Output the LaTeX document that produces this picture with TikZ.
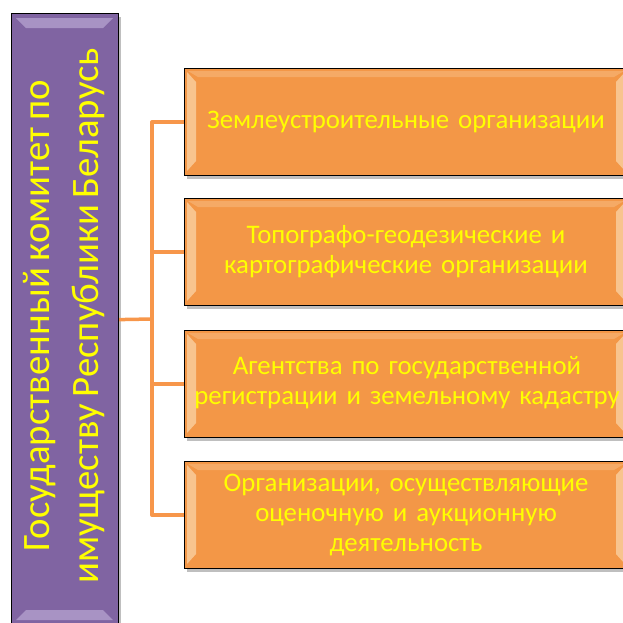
\documentclass[tikz,border=0pt]{standalone}
\usepackage{fontspec}
\setmainfont{Carlito}[WordSpace=0.75]
\usetikzlibrary{shadows}
\definecolor{purp}{HTML}{8064A2}
\definecolor{purpl}{HTML}{C4B3DC}
\definecolor{orng}{HTML}{F39747}
\definecolor{orngl}{HTML}{FAD0A0}
\definecolor{conn}{HTML}{F7964A}
\definecolor{txt}{HTML}{FFFF00}
\tikzset{
  box/.style={draw=black, line width=1.2pt, inner sep=0pt, anchor=north west,
    drop shadow={shadow xshift=2pt, shadow yshift=-3pt, opacity=0.25, fill=black}},
  purpbox/.style={box, fill=purp, minimum width=107pt, minimum height=612pt},
  orbox/.style={box, fill=orng, minimum width=444pt, minimum height=107pt},
  orlabel/.style={text=txt, font=\fontsize{26.8}{30}\selectfont, align=center, text width=430pt},
  biglabel/.style={text=txt, font=\fontsize{38.8}{49}\selectfont, align=center, rotate=90},
  link/.style={conn, line width=3.5pt}
}
\newcommand{\bevelH}[4]{% left x, top y, right x, bottom y : left/right strips
  \fill[orngl,opacity=0.8] (#1+3,#2+4) -- (#1+12,#2+14) -- (#1+12,#4-14) -- (#1+3,#4-4) -- cycle;
  \fill[orngl,opacity=0.8] (#3-3,#2+4) -- (#3-12,#2+14) -- (#3-12,#4-14) -- (#3-3,#4-4) -- cycle;
  \fill[orngl,opacity=0.35] (#1+4,#2+3) -- (#3-4,#2+3) -- (#3-14,#2+9) -- (#1+14,#2+9) -- cycle;
}
\begin{document}
\begin{tikzpicture}[x=1pt,y=-1pt]
\useasboundingbox (0,0) rectangle (623,622);
% purple box
\node[purpbox] (gk) at (11,13) {};
\fill[purpl,opacity=0.6] (16,18) -- (113,18) -- (103,28) -- (26,28) -- cycle;
\fill[purpl,opacity=0.6] (16,620) -- (113,620) -- (103,610) -- (26,610) -- cycle;
\node[biglabel] (gkt) at (64,316) {Государственный комитет по\\имуществу Республики Беларусь};
% orange boxes
\node[orbox] (o1) at (184,68) {};
\node[orbox] (o2) at (184,198) {};
\node[orbox] (o3) at (184,330) {};
\node[orbox] (o4) at (184,461) {};
\bevelH{184}{68}{628}{175}
\bevelH{184}{198}{628}{305}
\bevelH{184}{330}{628}{437}
\bevelH{184}{461}{628}{568}
\node[orlabel] (t1) at (406,122) {Землеустроительные организации};
\node[orlabel] (t2) at (406,252) {Топографо-геодезические и\\картографические организации};
\node[orlabel] (t3) at (407,383) {Агентства по государственной\\регистрации и земельному кадастру};
\node[orlabel] (t4) at (406,515) {Организации, осуществляющие\\оценочную и аукционную\\деятельность};
% connectors
\coordinate (bus) at (152,319);
\draw[link] (gk.east) -- (bus);
\draw[link, line join=round] (o1.west) -- (o1.west -| bus) -- (o4.west -| bus) -- (o4.west);
\draw[link] (o2.west) -- (o2.west -| bus);
\draw[link] (o3.west) -- (o3.west -| bus);
\end{tikzpicture}
\end{document}
